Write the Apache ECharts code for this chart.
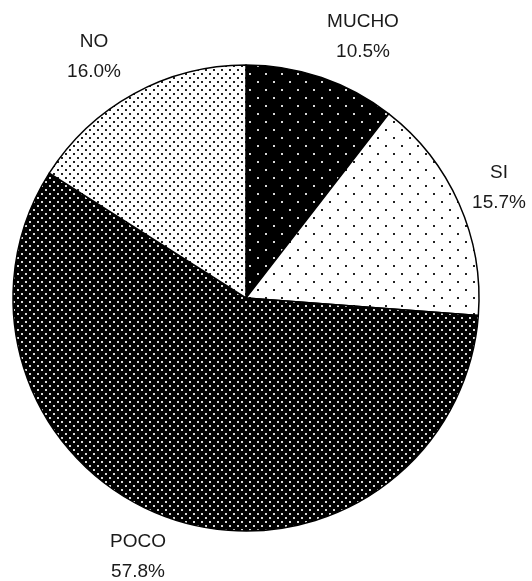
<!DOCTYPE html>
<html>
<head>
<meta charset="utf-8">
<script src="https://cdn.jsdelivr.net/npm/echarts@6/dist/echarts.min.js"></script>
<style>
  html, body { margin: 0; padding: 0; background: #fff; }
  #chart { width: 532px; height: 581px; }
</style>
</head>
<body>
<div id="chart"></div>
<script>
// Answers, clockwise from twelve o'clock
const categories = ['MUCHO', 'SI', 'POCO', 'NO'];
const percentages = [10.5, 15.7, 57.8, 16.0];

// Dotted fills, one per slice: background, dot colour, tile size, dot size
function dotPattern(bg, dot, tile, size) {
  const c = document.createElement('canvas');
  c.width = tile; c.height = tile;
  const g = c.getContext('2d');
  g.fillStyle = bg;
  g.fillRect(0, 0, tile, tile);
  g.fillStyle = dot;
  const h = tile / 2;
  g.fillRect(1, 1, size, size);
  g.fillRect(1 + h, 1 + h, size, size);
  return { image: c, repeat: 'repeat' };
}

const fills = [
  dotPattern('#000', '#d8d8d8', 16, 2),   // MUCHO: sparse light dots on black
  dotPattern('#fff', '#222', 16, 2),      // SI: sparse dark dots on white
  dotPattern('#000', '#d8d8d8', 8, 2),    // POCO: dense light dots on black
  dotPattern('#fff', '#222', 8, 2)        // NO: dense dark dots on white
];

// Label anchor points (centre of the two-line block)
const labelAnchors = [[363, 37], [499, 188], [138, 557], [94, 57]];

const chart = echarts.init(document.getElementById('chart'), null, { renderer: 'canvas' });
chart.setOption({
  animation: false,
  backgroundColor: '#fff',
  series: [{
    type: 'pie',
    silent: true,
    center: [246, 298],
    radius: 233,
    startAngle: 90,
    clockwise: true,
    data: categories.map((name, i) => ({
      name,
      value: percentages[i],
      itemStyle: { color: fills[i] }
    })),
    itemStyle: { borderColor: '#000', borderWidth: 1.5 },
    label: {
      show: true,
      position: 'inside',
      formatter: p => p.name + '\n' + p.value.toFixed(1) + '%',
      fontFamily: 'Liberation Sans, Arial, sans-serif',
      fontSize: 19,
      lineHeight: 30,
      color: '#1a1a1a',
      align: 'center',
      overflow: 'none'
    },
    labelLine: { show: false },
    labelLayout: params => {
      const a = labelAnchors[params.dataIndex];
      return { x: a[0], y: a[1], align: 'center', verticalAlign: 'middle' };
    }
  }]
});
</script>
</body>
</html>
